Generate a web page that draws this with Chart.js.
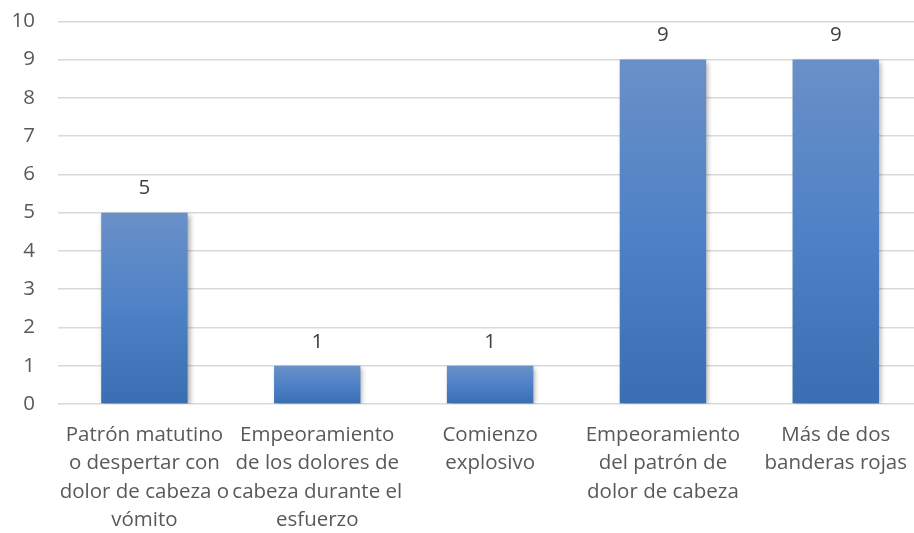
<!DOCTYPE html>
<html>
<head>
<meta charset="utf-8">
<script src="https://cdn.jsdelivr.net/npm/chart.js@4/dist/chart.umd.min.js"></script>
<style>
  html, body { margin: 0; padding: 0; background: #fff; overflow: hidden; }
  #wrap { position: absolute; left: 0; top: -14px; width: 924px; height: 547px; }
</style>
</head>
<body>
<div id="wrap"><canvas id="chart"></canvas></div>
<script>
// categories (already split in lines the way the original wraps them)
var categories = [
  ["Patrón matutino", "o despertar con", "dolor de cabeza o", "vómito"],
  ["Empeoramiento", "de los dolores de", "cabeza durante el", "esfuerzo"],
  ["Comienzo", "explosivo"],
  ["Empeoramiento", "del patrón de", "dolor de cabeza"],
  ["Más de dos", "banderas rojas"]
];
var values = [5, 1, 1, 9, 9];
var yMin = 0, yMax = 10, yStep = 1;

var txtColor = "#595959";
var fontFam = "'Open Sans', sans-serif";

function barFill(ctx) {
  var chart = ctx.chart;
  if (!chart.chartArea || ctx.type !== "data") return "#4f81bd";
  var y = chart.scales.y;
  var top = y.getPixelForValue(ctx.parsed.y);
  var bot = y.getPixelForValue(0);
  if (!isFinite(top) || !isFinite(bot) || top === bot) return "#4f81bd";
  var g = chart.ctx.createLinearGradient(0, top, 0, bot);
  g.addColorStop(0, "#6a90c8");
  g.addColorStop(0.5, "#4e82c6");
  g.addColorStop(1, "#3a6db1");
  return g;
}

// soft shadow behind the bars
var shadow = {
  id: "shadow",
  beforeDatasetsDraw: function(chart) {
    var c = chart.ctx;
    c.save();
    c.shadowColor = "rgba(0,0,0,0.35)";
    c.shadowBlur = 5;
    c.shadowOffsetX = 2;
    c.shadowOffsetY = 2;
  },
  afterDatasetsDraw: function(chart) {
    chart.ctx.restore();
  }
};

// value labels above each bar
var valueLabels = {
  id: "valueLabels",
  afterDatasetsDraw: function(chart) {
    var c = chart.ctx;
    var meta = chart.getDatasetMeta(0);
    c.save();
    c.font = "20.5px " + fontFam;
    c.fillStyle = "#404040";
    c.textAlign = "center";
    c.textBaseline = "middle";
    meta.data.forEach(function(bar, i) {
      c.fillText(String(values[i]), bar.x, bar.y - 24);
    });
    c.restore();
  }
};

var canvas = document.getElementById("chart");
var config = {
  type: "bar",
  data: {
    labels: categories,
    datasets: [{
      data: values,
      backgroundColor: barFill,
      borderWidth: 0,
      categoryPercentage: 1,
      barPercentage: 0.5
    }]
  },
  options: {
    responsive: true,
    maintainAspectRatio: false,
    animation: false,
    layout: { padding: { top: 8, right: 0, bottom: 0, left: 0 } },
    plugins: {
      legend: { display: false },
      tooltip: { enabled: false }
    },
    scales: {
      x: {
        grid: { display: false, drawTicks: false },
        border: { display: false },
        ticks: {
          color: txtColor,
          font: { family: fontFam, size: 20.5, lineHeight: 1.38 },
          padding: 17,
          maxRotation: 0,
          minRotation: 0,
          autoSkip: false
        },
        afterFit: function(s) { s.height = 129; }
      },
      y: {
        min: yMin,
        max: yMax,
        grid: { color: "#d9d9d9", lineWidth: 1.5, drawTicks: false },
        border: { display: false },
        ticks: {
          stepSize: yStep,
          color: txtColor,
          font: { family: fontFam, size: 20.5 },
          padding: 23
        },
        afterFit: function(s) { s.width = 58; }
      }
    }
  },
  plugins: [shadow, valueLabels]
};

var barchart = new Chart(canvas, config);
</script>
</body>
</html>
